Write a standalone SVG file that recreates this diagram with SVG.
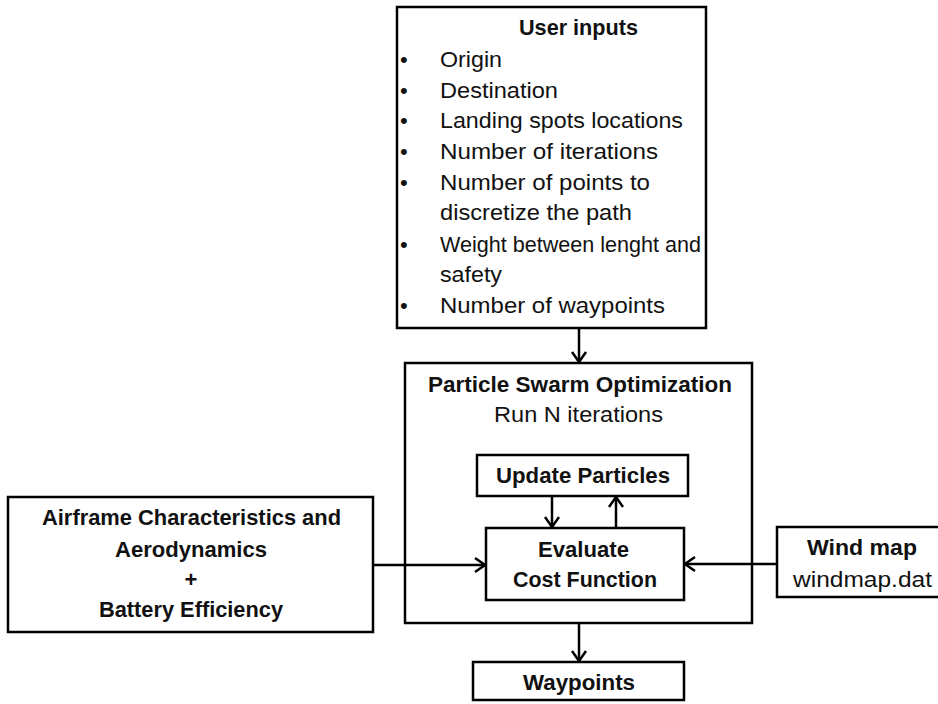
<svg xmlns="http://www.w3.org/2000/svg" width="938" height="704" viewBox="0 0 938 704">
<style>
.box{fill:#fff;stroke:#000;stroke-width:2.5}
.t{font-family:"Liberation Sans",Arial,sans-serif;font-size:22px;fill:#111}
.b{font-family:"Liberation Sans",Arial,sans-serif;font-size:22px;font-weight:bold;fill:#111}
.c{text-anchor:middle}
.ln{stroke:#000;stroke-width:2.5;fill:none}
</style>
<defs>
<marker id="arr" markerUnits="userSpaceOnUse" viewBox="-12 -9 14 18" refX="0" refY="0" markerWidth="14" markerHeight="18" orient="auto">
<polyline points="-10,-7 0,0 -10,7" fill="none" stroke="#000" stroke-width="2.5"/>
</marker>
</defs>
<rect width="938" height="704" fill="#fff"/>
<g id="user-inputs">
<rect class="box" x="397" y="7" width="309" height="321"/>
<text class="b c" x="578.5" y="35" textLength="119" lengthAdjust="spacingAndGlyphs">User inputs</text>
<g class="t">
<text x="400" y="67">•</text><text x="440" y="67" textLength="62" lengthAdjust="spacingAndGlyphs">Origin</text>
<text x="400" y="98">•</text><text x="440" y="98" textLength="118" lengthAdjust="spacingAndGlyphs">Destination</text>
<text x="400" y="128">•</text><text x="440" y="128" textLength="243" lengthAdjust="spacingAndGlyphs">Landing spots locations</text>
<text x="400" y="159">•</text><text x="440" y="159" textLength="218" lengthAdjust="spacingAndGlyphs">Number of iterations</text>
<text x="400" y="190">•</text><text x="440" y="190" textLength="210" lengthAdjust="spacingAndGlyphs">Number of points to</text>
<text x="440" y="220" textLength="192" lengthAdjust="spacingAndGlyphs">discretize the path</text>
<text x="400" y="252">•</text><text x="440" y="252" textLength="261" lengthAdjust="spacingAndGlyphs">Weight between lenght and</text>
<text x="440" y="282" textLength="62" lengthAdjust="spacingAndGlyphs">safety</text>
<text x="400" y="313">•</text><text x="440" y="313" textLength="225" lengthAdjust="spacingAndGlyphs">Number of waypoints</text>
</g>
</g>
<g id="pso">
<rect class="box" x="405" y="363" width="347" height="260"/>
<text class="b c" x="580" y="392" textLength="304" lengthAdjust="spacingAndGlyphs">Particle Swarm Optimization</text>
<text class="t c" x="578.5" y="422" textLength="169" lengthAdjust="spacingAndGlyphs">Run N iterations</text>
</g>
<g id="update-particles">
<rect class="box" x="477" y="455" width="211" height="41"/>
<text class="b c" x="583" y="483" textLength="174" lengthAdjust="spacingAndGlyphs">Update Particles</text>
</g>
<g id="evaluate">
<rect class="box" x="486" y="528" width="198" height="72"/>
<text class="b c" x="583.5" y="557" textLength="91" lengthAdjust="spacingAndGlyphs">Evaluate</text>
<text class="b c" x="585" y="587" textLength="144" lengthAdjust="spacingAndGlyphs">Cost Function</text>
</g>
<g id="waypoints">
<rect class="box" x="473" y="662" width="211" height="38"/>
<text class="b c" x="579" y="690" textLength="112" lengthAdjust="spacingAndGlyphs">Waypoints</text>
</g>
<g id="airframe">
<rect class="box" x="8" y="497" width="365" height="135"/>
<text class="b c" x="191.5" y="525" textLength="299" lengthAdjust="spacingAndGlyphs">Airframe Characteristics and</text>
<text class="b c" x="191" y="557" textLength="152" lengthAdjust="spacingAndGlyphs">Aerodynamics</text>
<text class="b c" x="191" y="587">+</text>
<text class="b c" x="191" y="617" textLength="184" lengthAdjust="spacingAndGlyphs">Battery Efficiency</text>
</g>
<g id="wind-map">
<rect class="box" x="777" y="527" width="175" height="70"/>
<text class="b c" x="862" y="555" textLength="110" lengthAdjust="spacingAndGlyphs">Wind map</text>
<text class="t c" x="862.5" y="587" textLength="139" lengthAdjust="spacingAndGlyphs">windmap.dat</text>
</g>
<g id="connectors">
<line class="ln" x1="579" y1="328" x2="579" y2="362" marker-end="url(#arr)"/>
<line class="ln" x1="552" y1="496" x2="552" y2="527" marker-end="url(#arr)"/>
<line class="ln" x1="616" y1="528" x2="616" y2="497" marker-end="url(#arr)"/>
<line class="ln" x1="373" y1="565" x2="485" y2="565" marker-end="url(#arr)"/>
<line class="ln" x1="777" y1="564" x2="685" y2="564" marker-end="url(#arr)"/>
<line class="ln" x1="579" y1="623" x2="579" y2="661" marker-end="url(#arr)"/>
</g>
</svg>
